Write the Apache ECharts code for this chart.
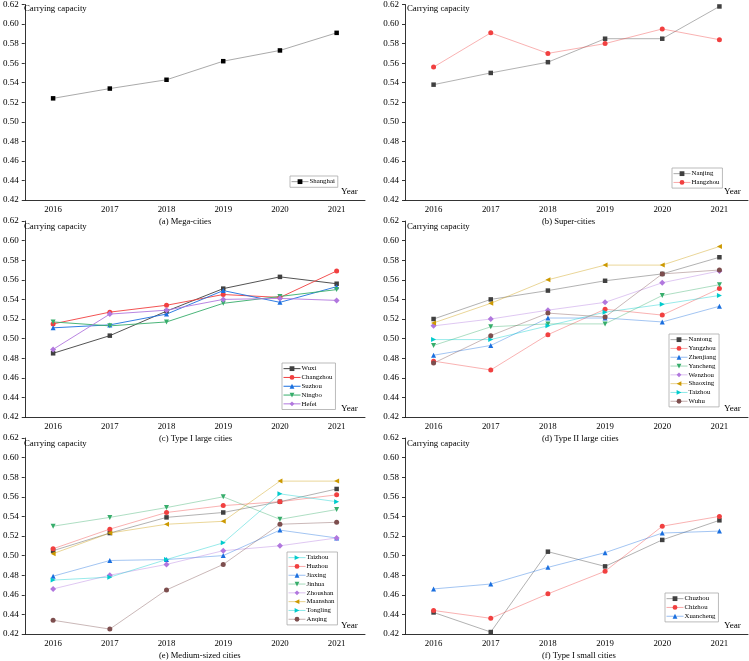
<!DOCTYPE html>
<html>
<head>
<meta charset="utf-8">
<title>Carrying capacity</title>
<script src="https://cdn.jsdelivr.net/npm/echarts@6/dist/echarts.min.js"></script>
<style>
  html, body { margin: 0; padding: 0; background: #fff; }
  #main { width: 749px; height: 661px; }
</style>
</head>
<body>
<div id="main"></div>
<script>
// categories
var years = ['2016', '2017', '2018', '2019', '2020', '2021'];
var yMin = 0.42, yMax = 0.62, yStep = 0.02;

// (a) Mega-cities
var shanghai = [0.524, 0.534, 0.543, 0.562, 0.573, 0.591];
// (b) Super-cities
var nanjing = [0.538, 0.550, 0.561, 0.585, 0.585, 0.618];
var hangzhou = [0.556, 0.591, 0.570, 0.580, 0.595, 0.584];
// (c) Type I large cities
var wuxi = [0.485, 0.503, 0.528, 0.551, 0.563, 0.556];
var changzhou = [0.515, 0.527, 0.534, 0.545, 0.542, 0.569];
var suzhou = [0.511, 0.514, 0.525, 0.549, 0.537, 0.553];
var ningbo = [0.517, 0.513, 0.517, 0.536, 0.543, 0.550];
var hefei = [0.489, 0.525, 0.529, 0.540, 0.541, 0.539];
// (d) Type II large cities
var nantong = [0.520, 0.540, 0.549, 0.559, 0.566, 0.583];
var yangzhou = [0.477, 0.468, 0.504, 0.530, 0.524, 0.551];
var zhenjiang = [0.483, 0.493, 0.521, 0.521, 0.517, 0.533];
var yancheng = [0.493, 0.512, 0.515, 0.515, 0.544, 0.555];
var wenzhou = [0.513, 0.520, 0.529, 0.537, 0.557, 0.569];
var shaoxing = [0.516, 0.536, 0.560, 0.575, 0.575, 0.594];
var taizhouD = [0.499, 0.499, 0.513, 0.527, 0.535, 0.544];
var wuhu = [0.475, 0.503, 0.526, 0.522, 0.566, 0.570];
// (e) Medium-sized cities
var taizhouE = [0.505, 0.523, 0.539, 0.544, 0.555, 0.568];
var huzhou = [0.507, 0.527, 0.544, 0.551, 0.555, 0.562];
var jiaxing = [0.479, 0.495, 0.496, 0.500, 0.526, 0.518];
var jinhua = [0.530, 0.539, 0.549, 0.560, 0.537, 0.547];
var zhoushan = [0.466, 0.480, 0.491, 0.505, 0.510, 0.518];
var maanshan = [0.502, 0.523, 0.532, 0.535, 0.576, 0.576];
var tongling = [0.475, 0.478, 0.496, 0.513, 0.563, 0.555];
var anqing = [0.434, 0.425, 0.465, 0.491, 0.532, 0.534];
// (f) Type I small cities
var chuzhou = [0.442, 0.422, 0.504, 0.489, 0.516, 0.536];
var chizhou = [0.444, 0.436, 0.461, 0.484, 0.530, 0.540];
var xuancheng = [0.466, 0.471, 0.488, 0.503, 0.523, 0.525];

// Origin-like marker styles, in series order
var styles = [
  { color: '#404040', symbol: 'rect', size: 4.5, rot: 0 },
  { color: '#F14040', symbol: 'circle', size: 5, rot: 0 },
  { color: '#1A6FDF', symbol: 'triangle', size: 5, rot: 0 },
  { color: '#37AD6B', symbol: 'triangle', size: 5, rot: 180 },
  { color: '#B177DE', symbol: 'diamond', size: 6, rot: 0 },
  { color: '#CC9900', symbol: 'triangle', size: 5, rot: 90 },
  { color: '#00CBCC', symbol: 'triangle', size: 5, rot: -90 },
  { color: '#7D4E4E', symbol: 'circle', size: 5, rot: 0 }
];

var panels = [
  { caption: '(a) Mega-cities', left: 22, top: 3, height: 197, lineAlpha: 0.45,
    names: ['Shanghai'], data: [shanghai], legend: [290, 176], black: true },
  { caption: '(b) Super-cities', left: 405, top: 3, height: 197, lineAlpha: 0.45,
    names: ['Nanjing', 'Hangzhou'], data: [nanjing, hangzhou], legend: [672, 168] },
  { caption: '(c) Type I large cities', left: 22, top: 221, height: 196, lineAlpha: 1,
    names: ['Wuxi', 'Changzhou', 'Suzhou', 'Ningbo', 'Hefei'],
    data: [wuxi, changzhou, suzhou, ningbo, hefei], legend: [282, 363] },
  { caption: '(d) Type II large cities', left: 405, top: 221, height: 196, lineAlpha: 0.45,
    names: ['Nantong', 'Yangzhou', 'Zhenjiang', 'Yancheng', 'Wenzhou', 'Shaoxing', 'Taizhou', 'Wuhu'],
    data: [nantong, yangzhou, zhenjiang, yancheng, wenzhou, shaoxing, taizhouD, wuhu], legend: [669, 334] },
  { caption: '(e) Medium-sized cities', left: 22, top: 438, height: 196, lineAlpha: 0.45,
    names: ['Taizhou', 'Huzhou', 'Jiaxing', 'Jinhua', 'Zhoushan', 'Maanshan', 'Tongling', 'Anqing'],
    data: [taizhouE, huzhou, jiaxing, jinhua, zhoushan, maanshan, tongling, anqing], legend: [287, 552] },
  { caption: '(f) Type I small cities', left: 405, top: 438, height: 196, lineAlpha: 0.45,
    names: ['Chuzhou', 'Chizhou', 'Xuancheng'], data: [chuzhou, chizhou, xuancheng], legend: [665, 593] }
];

var FONT = '"Liberation Serif", "Times New Roman", serif';
var W = 343;
var grid = [], xAxis = [], yAxis = [], series = [], legend = [], graphic = [];

panels.forEach(function (p, i) {
  grid.push({ left: p.left, top: p.top, width: W, height: p.height });
  xAxis.push({
    type: 'category', gridIndex: i, data: years, boundaryGap: true,
    axisLine: { lineStyle: { color: '#000', width: 0.8 } },
    axisTick: { alignWithLabel: true, length: 3, lineStyle: { color: '#000', width: 0.8 } },
    axisLabel: { color: '#000', fontFamily: FONT, fontSize: 8.8, margin: 5 },
    splitLine: { show: false }
  });
  yAxis.push({
    type: 'value', gridIndex: i, min: yMin, max: yMax, interval: yStep,
    axisLine: { show: true, lineStyle: { color: '#000', width: 0.8 } },
    axisTick: { show: true, length: 3, lineStyle: { color: '#000', width: 0.8 } },
    axisLabel: { color: '#000', fontFamily: FONT, fontSize: 9, margin: 6,
      formatter: function (v) { return v.toFixed(2); } },
    splitLine: { show: false }
  });
  p.names.forEach(function (name, k) {
    var s = styles[k];
    var first = p.black && k === 0;
    series.push({
      type: 'line', name: name, xAxisIndex: i, yAxisIndex: i, data: p.data[k],
      symbol: s.symbol, symbolSize: s.size, symbolRotate: s.rot,
      showAllSymbol: true, animation: false,
      itemStyle: { color: first ? '#000' : s.color },
      lineStyle: { color: first ? '#888' : s.color, width: 0.9, opacity: first ? 0.8 : p.lineAlpha }
    });
  });
  legend.push({
    data: p.names, orient: 'vertical', left: p.legend[0], top: p.legend[1],
    itemWidth: 17, itemHeight: 6, itemGap: 0.5,
    lineStyle: { width: 1 },
    borderColor: '#aaa', borderWidth: 0.8, padding: [1.5, 3, 1.5, 1],
    textStyle: { color: '#000', fontFamily: FONT, fontSize: 6.8, lineHeight: 8.3, padding: [0, 0, 0, -4] },
    selectedMode: false
  });
  var right = p.left + W;
  graphic.push(
    { type: 'text', left: p.left + 2, top: p.top + 1,
      style: { text: 'Carrying capacity', font: '8.8px ' + FONT, fill: '#000' } },
    { type: 'text', left: right - 24, top: p.top + p.height - 13,
      style: { text: 'Year', font: '9.2px ' + FONT, fill: '#000' } },
    { type: 'text', left: p.left + 137, top: p.top + p.height + 17,
      style: { text: p.caption, font: '8.6px ' + FONT, fill: '#000' } }
  );
});

var chart = echarts.init(document.getElementById('main'));
chart.setOption({
  backgroundColor: '#fff',
  animation: false,
  grid: grid, xAxis: xAxis, yAxis: yAxis, series: series,
  legend: legend, graphic: graphic
});
</script>
</body>
</html>
